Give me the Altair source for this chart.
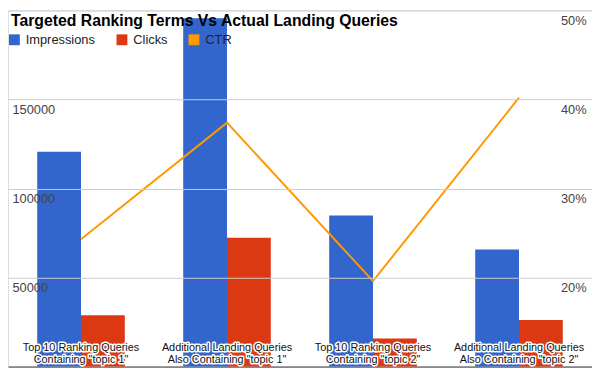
import altair as alt
import pandas as pd

# ---- data ----
categories = [
    'Top 10 Ranking Queries\nContaining "topic 1"',
    'Additional Landing Queries\nAlso Containing "topic 1"',
    'Top 10 Ranking Queries\nContaining "topic 2"',
    'Additional Landing Queries\nAlso Containing "topic 2"',
]
impressions = [120700, 195600, 84800, 65800]
clicks = [28800, 72300, 15800, 26100]
ctr = [0.243, 0.374, 0.196, 0.402]
series_names = ["Impressions", "Clicks", "CTR"]
series_colors = ["#3366CC", "#DC3912", "#FF9900"]
left_ticks = [50000, 100000, 150000, 200000]
right_ticks = [0.2, 0.3, 0.4, 0.5]

FONT = "Liberation Sans"

bar_df = pd.DataFrame(
    [{"cat": c, "series": "Impressions", "value": v} for c, v in zip(categories, impressions)]
    + [{"cat": c, "series": "Clicks", "value": v} for c, v in zip(categories, clicks)]
)
ctr_df = pd.DataFrame({"cat": categories, "series": "CTR", "ctr": ctr})
lab_df = pd.DataFrame({"cat": categories})

xscale = alt.Scale(domain=categories, paddingInner=0.4, paddingOuter=0.2)
color = alt.Color(
    "series:N",
    scale=alt.Scale(domain=series_names, range=series_colors),
    legend=alt.Legend(
        orient="none", legendX=0, legendY=23, direction="horizontal", title=None,
        symbolType="square", symbolSize=121, symbolStrokeWidth=0,
        labelFont=FONT, labelFontSize=13, labelColor="#222222",
        columnPadding=20, labelOffset=5,
    ),
)

bars = alt.Chart(bar_df).mark_bar().encode(
    x=alt.X("cat:N", scale=xscale, sort=categories,
            axis=alt.Axis(labels=False, ticks=False, title=None, domain=True,
                          domainColor="#333333", domainWidth=1, grid=False)),
    xOffset=alt.XOffset("series:N", sort=["Impressions", "Clicks"],
                        scale=alt.Scale(domain=["Impressions", "Clicks"], paddingInner=0, paddingOuter=0)),
    y=alt.Y("value:Q", scale=alt.Scale(domain=[0, 200000], nice=False),
            axis=alt.Axis(values=left_ticks, format="d", title=None, orient="left", domain=False,
                          ticks=False, tickSize=0, labelAlign="left", labelBaseline="top",
                          labelPadding=-4, labelOffset=4, labelFont=FONT, labelFontSize=13,
                          labelColor="#444444", grid=True, gridColor="#cccccc", zindex=1,
                          labelExpr="datum.value >= 200000 ? '' : datum.label")),
    color=color,
)

line = alt.Chart(ctr_df).mark_line(strokeWidth=2).encode(
    x=alt.X("cat:N", scale=xscale, sort=categories),
    y=alt.Y("ctr:Q", scale=alt.Scale(domain=[0.1, 0.5], nice=False),
            axis=alt.Axis(values=right_ticks, format=".0%", title=None, orient="right",
                          domain=False, ticks=False, tickSize=0, labelAlign="right",
                          labelBaseline="top", labelPadding=-6, labelOffset=4,
                          labelFont=FONT, labelFontSize=13, labelColor="#444444",
                          grid=False, zindex=1)),
    color=color,
)

halo = alt.Chart(lab_df).mark_text(
    lineBreak="\n", lineHeight=12, fontSize=11, font=FONT, baseline="top",
    stroke="white", strokeWidth=3, color="white", strokeJoin="round",
).encode(x=alt.X("cat:N", scale=xscale, sort=categories), y=alt.value(336), text="cat:N")

labels = alt.Chart(lab_df).mark_text(
    lineBreak="\n", lineHeight=12, fontSize=11, font=FONT, baseline="top", color="#111111",
).encode(x=alt.X("cat:N", scale=xscale, sort=categories), y=alt.value(336), text="cat:N")

chart = (
    alt.layer(bars, line, halo, labels)
    .resolve_scale(y="independent")
    .properties(
        width=592, height=361,
        autosize=alt.AutoSizeParams(type="none"),
        padding=0,
        title=alt.TitleParams(
            "Targeted Ranking Terms Vs Actual Landing Queries", anchor="start", frame="group",
            font=FONT, fontSize=16, fontWeight="bold", color="#000000",
            baseline="alphabetic", offset=0, dx=3, dy=32,
        ),
    )
    .configure_view(stroke=None)
    .configure(background="white")
)

chart.save("out.html", embed_options={"renderer": "svg", "actions": False})
